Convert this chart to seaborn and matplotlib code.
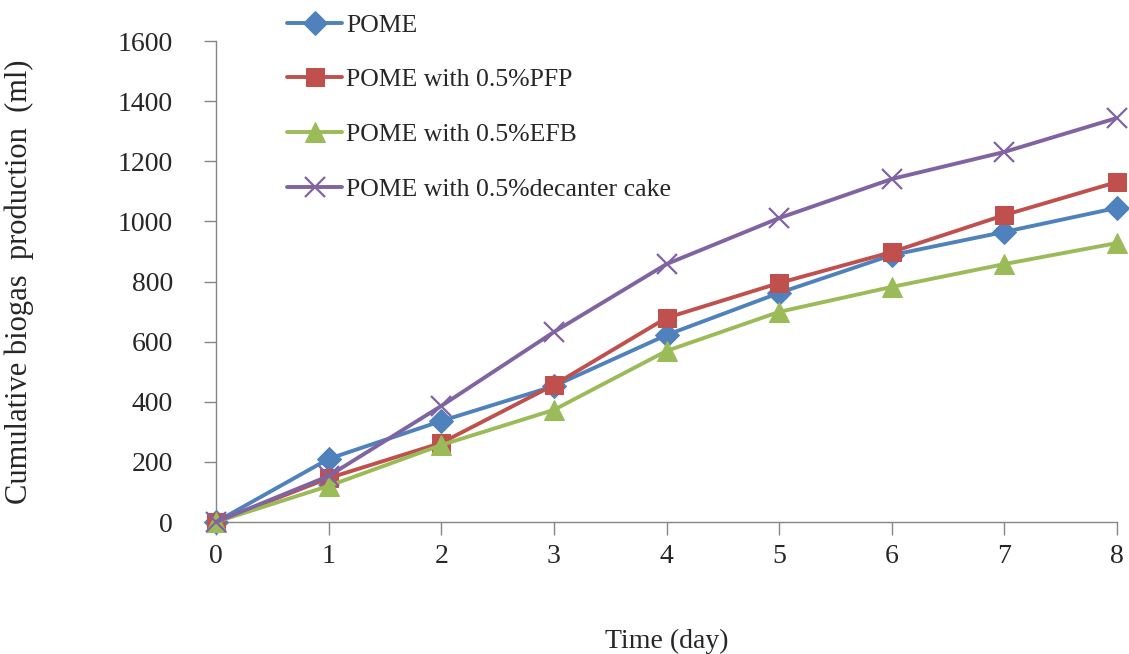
import matplotlib
matplotlib.use("Agg")
import matplotlib.pyplot as plt
import seaborn as sns
import numpy as np

# data
days = [0, 1, 2, 3, 4, 5, 6, 7, 8]
pome = [0, 210, 336, 452, 622, 762, 888, 965, 1045]
pome_pfp = [0, 146, 263, 456, 679, 795, 898, 1021, 1131]
pome_efb = [0, 120, 256, 373, 569, 699, 782, 858, 928]
pome_decanter = [0, 153, 386, 632, 858, 1011, 1141, 1231, 1344]

series_names = ["POME", "POME with 0.5%PFP", "POME with 0.5%EFB",
                "POME with 0.5%decanter cake"]
y_ticks = [0, 200, 400, 600, 800, 1000, 1200, 1400, 1600]

sns.set_style("white")
plt.rcParams['font.family'] = ['Liberation Serif', 'DejaVu Serif']

fig = plt.figure(figsize=(11.29, 6.54), dpi=100)
ax = fig.add_axes([0.1913, 0.2018, 0.7981, 0.7355])

estilos = [
    dict(color="#4F81BD", marker="D", markersize=12),
    dict(color="#C0504D", marker="s", markersize=13),
    dict(color="#9BBB59", marker="^", markersize=15),
    dict(color="#8064A2", marker="x", markersize=14, markeredgewidth=1.6),
]
valores = [pome, pome_pfp, pome_efb, pome_decanter]

for nome, vals, est in zip(series_names, valores, estilos):
    sns.lineplot(x=days, y=vals, ax=ax, label=nome, linewidth=2.8,
                 markeredgecolor=est["color"], clip_on=False, zorder=3, **est)

ax.set_xlim(0, 8)
ax.set_ylim(0, 1600)
ax.set_xticks(days)
ax.set_yticks(y_ticks)

for lado in ["top", "right"]:
    ax.spines[lado].set_visible(False)
for lado in ["left", "bottom"]:
    ax.spines[lado].set_color("#868686")
    ax.spines[lado].set_linewidth(1.0)

ax.tick_params(axis="y", direction="out", length=9, width=1, color="#868686",
               pad=22, labelsize=20, left=True)
ax.tick_params(axis="x", direction="out", length=9, width=1, color="#868686",
               pad=7, labelsize=20, bottom=True)

ax.set_xlabel("Time (day)", fontsize=20)
ax.set_ylabel("Cumulative biogas  production  (ml)", fontsize=22)
ax.xaxis.set_label_coords(0.5, -0.2225)
ax.yaxis.set_label_coords(-0.202, 0.5)

ax.get_legend().remove()
handles, labels = ax.get_legend_handles_labels()
fig.legend(handles, labels, loc="upper left", bbox_to_anchor=(0.245, 0.995),
           frameon=False, fontsize=18.5, handlelength=2.15, handletextpad=0.15,
           labelspacing=1.24, borderaxespad=0)

fig.savefig("out.png", dpi=100)
